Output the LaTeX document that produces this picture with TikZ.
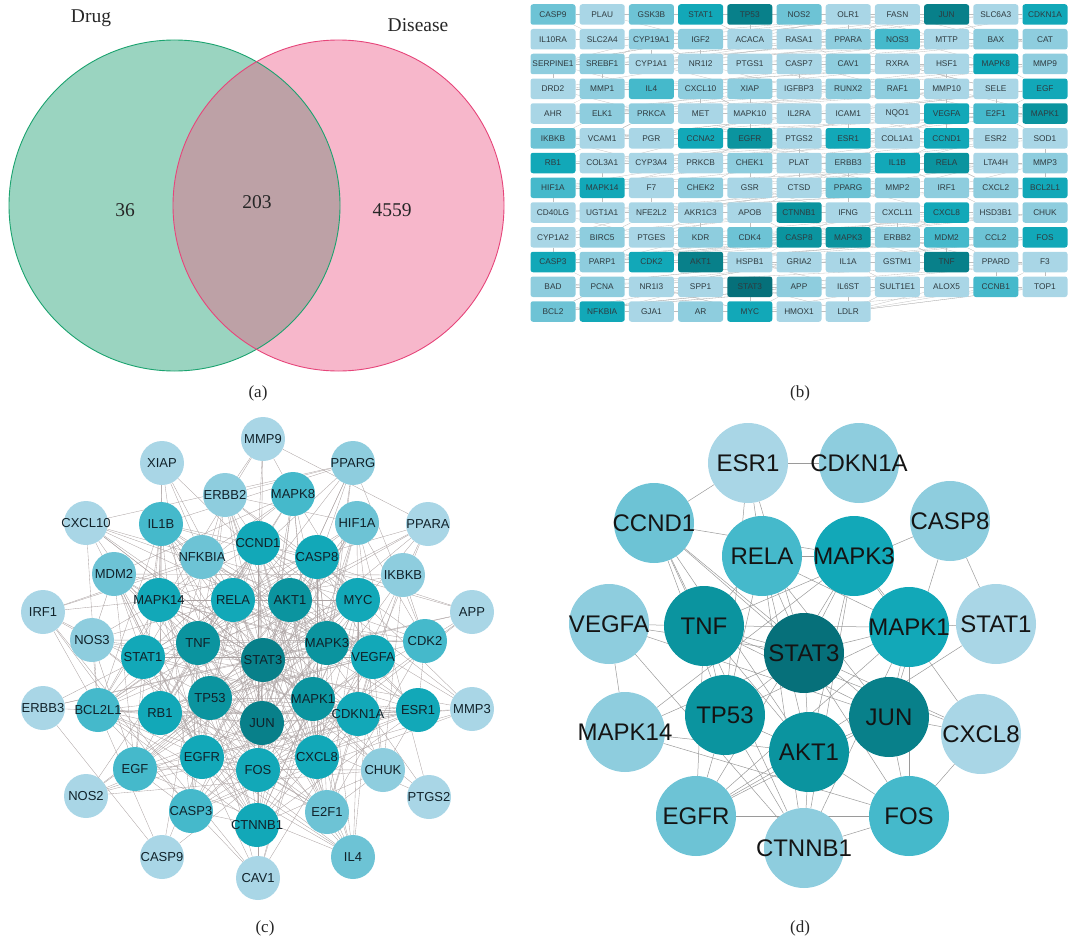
\documentclass[tikz,border=0pt]{standalone}
\usepackage{fontspec}
\setmainfont{Liberation Serif}
\newfontfamily\arialf{Liberation Sans}
\usetikzlibrary{backgrounds}
\definecolor{k1}{HTML}{A9D6E6}
\definecolor{k2}{HTML}{8ECDDE}
\definecolor{k3}{HTML}{6DC3D5}
\definecolor{k4}{HTML}{45B9CB}
\definecolor{k5}{HTML}{12A8B8}
\definecolor{k6}{HTML}{0B949F}
\definecolor{k7}{HTML}{08808A}
\definecolor{k8}{HTML}{06707A}
\definecolor{vgfill}{HTML}{9AD4C0}
\definecolor{vgline}{HTML}{1BA36F}
\definecolor{vpfill}{HTML}{F7B7CB}
\definecolor{vpline}{HTML}{E6457A}
\definecolor{vint}{HTML}{BDA1A6}
\definecolor{txtb}{HTML}{2E3B40}
\definecolor{txtc}{HTML}{10222A}
\definecolor{bedgec}{HTML}{BEBEBE}
\definecolor{cedgec}{HTML}{ADA4A4}
\definecolor{dedgec}{HTML}{9A9A9A}
\tikzset{
  vennlbl/.style={font=\fontsize{19.5}{20}\selectfont, text=black!85},
  caplbl/.style={font=\fontsize{17}{18}\selectfont, text=black!85},
  gbox/.style={rounded corners=2.5pt, minimum width=45pt, minimum height=20.5pt, inner sep=0pt,
    font=\arialf\fontsize{8.3}{9}\selectfont, text=txtb},
  cnode/.style={circle, minimum size=44pt, inner sep=0pt},
  ctext/.style={font=\arialf\fontsize{13}{14}\selectfont, text=txtc, inner sep=0pt},
  dnode/.style={circle, minimum size=80pt, inner sep=0pt},
  dtext/.style={font=\arialf\fontsize{24}{26}\selectfont, text=black!92, inner sep=0pt},
  bedge/.style={draw=bedgec, line width=0.3pt},
  cedge/.style={draw=cedgec, line width=0.35pt},
  dedge/.style={draw=dedgec, line width=0.5pt},
}
\def\cnodes{MMP9/263/439/1, XIAP/162/463/1, PPARG/353/463/2, ERBB2/225/495/2, MAPK8/293/494/4,
CXCL10/86/523/1, IL1B/161/524/4, HIF1A/357/523/3, PPARA/428/524/1, CCND1/258/543/5,
NFKBIA/202/557/3, CASP8/317/557/5, MDM2/114/574/3, IKBKB/403/575/2, MAPK14/159/600/5,
RELA/233/600/5, AKT1/290/600/6, MYC/358/600/5, IRF1/43/612/1, APP/472/612/1,
NOS3/92/640/2, TNF/198/643/6, MAPK3/327/643/6, CDK2/425/641/4, STAT1/143/657/5,
STAT3/263/660/7, VEGFA/373/657/5, ERBB3/43/708/1, BCL2L1/98/710/4, RB1/160/713/5,
TP53/210/698/6, MAPK1/313/699/6, CDKN1A/358/714/5, ESR1/418/710/5, MMP3/472/709/1,
JUN/262/723/7, EGFR/202/757/5, EGF/135/769/4, FOS/258/770/5, CXCL8/317/757/5,
CHUK/383/770/2, NOS2/86/796/1, CASP3/191/811/4, PTGS2/429/797/1, E2F1/327/812/3,
CTNNB1/257/825/5, CASP9/162/857/1, IL4/353/857/3, CAV1/258/878/1}
\def\dnodes{ESR1/748/463/1, CDKN1A/859/463/2, CCND1/654/523/3, CASP8/950/521/2,
RELA/762/556/4, MAPK3/854/556/5, VEGFA/609/624/2, TNF/704/626/6, STAT3/804/653/8,
MAPK1/909/627/5, STAT1/996/624/1, TP53/725/715/6, JUN/889/717/7, MAPK14/625/732/2,
CXCL8/981/734/1, AKT1/809/752/6, EGFR/696/816/3, CTNNB1/804/848/2, FOS/909/816/4}
\begin{document}
\begin{tikzpicture}[x=1pt,y=-1pt]
\useasboundingbox (0,0) rectangle (1068,942);
% ---------------- (a) Venn ----------------
\fill[vgfill] (174.5,205.5) circle[radius=165.5pt];
\fill[vpfill] (338.5,205.5) circle[radius=165.5pt];
\begin{scope}
  \clip (174.5,205.5) circle[radius=165.5pt];
  \fill[vint] (338.5,205.5) circle[radius=165.5pt];
\end{scope}
\draw[vgline, line width=0.9pt] (174.5,205.5) circle[radius=165.5pt];
\draw[vpline, line width=0.9pt] (338.5,205.5) circle[radius=165.5pt];
\node[vennlbl] (drug) at (91,18) {Drug};
\node[vennlbl] (disease) at (418,25) {Disease};
\node[vennlbl] (n36) at (125,210) {36};
\node[vennlbl] (n203) at (257,202) {203};
\node[vennlbl] (n4559) at (392,210) {4559};
\node[caplbl] (capa) at (258,393) {(a)};
% ---------------- (b) grid ----------------
\foreach \g/\l [count=\i from 0] in {CASP9/3,PLAU/1,GSK3B/3,STAT1/5,TP53/7,NOS2/3,OLR1/1,FASN/1,JUN/7,SLC6A3/1,CDKN1A/5,
IL10RA/1,SLC2A4/1,CYP19A1/2,IGF2/2,ACACA/1,RASA1/1,PPARA/2,NOS3/4,MTTP/1,BAX/2,CAT/2,
SERPINE1/2,SREBF1/2,CYP1A1/1,NR1I2/1,PTGS1/1,CASP7/1,CAV1/2,RXRA/1,HSF1/1,MAPK8/5,MMP9/2,
DRD2/1,MMP1/2,IL4/4,CXCL10/2,XIAP/2,IGFBP3/1,RUNX2/2,RAF1/2,MMP10/1,SELE/1,EGF/5,
AHR/1,ELK1/2,PRKCA/2,MET/1,MAPK10/1,IL2RA/1,ICAM1/1,NQO1/1,VEGFA/5,E2F1/4,MAPK1/6,
IKBKB/3,VCAM1/1,PGR/1,CCNA2/5,EGFR/6,PTGS2/1,ESR1/5,COL1A1/1,CCND1/5,ESR2/1,SOD1/1,
RB1/5,COL3A1/1,CYP3A4/1,PRKCB/1,CHEK1/2,PLAT/1,ERBB3/2,IL1B/5,RELA/6,LTA4H/1,MMP3/2,
HIF1A/4,MAPK14/5,F7/1,CHEK2/2,GSR/1,CTSD/1,PPARG/3,MMP2/2,IRF1/2,CXCL2/2,BCL2L1/5,
CD40LG/1,UGT1A1/1,NFE2L2/1,AKR1C3/1,APOB/1,CTNNB1/6,IFNG/1,CXCL11/1,CXCL8/5,HSD3B1/1,CHUK/2,
CYP1A2/1,BIRC5/2,PTGES/1,KDR/2,CDK4/3,CASP8/6,MAPK3/6,ERBB2/2,MDM2/4,CCL2/3,FOS/5,
CASP3/5,PARP1/2,CDK2/5,AKT1/7,HSPB1/1,GRIA2/1,IL1A/1,GSTM1/1,TNF/7,PPARD/1,F3/1,
BAD/2,PCNA/2,NR1I3/1,SPP1/1,STAT3/8,APP/2,IL6ST/1,SULT1E1/1,ALOX5/1,CCNB1/4,TOP1/1,
BCL2/3,NFKBIA/5,GJA1/1,AR/2,MYC/5,HMOX1/1,LDLR/1} {
  \pgfmathtruncatemacro\col{mod(\i,11)}
  \pgfmathtruncatemacro\row{div(\i,11)}
  \node[gbox, fill=k\l] (b\i) at ({553+\col*49.2},{14.5+\row*24.75}) {\g};
}
\begin{pgfonlayer}{background}
\pgfmathsetseed{11}
\foreach \i in {0,...,138} {
  \foreach \t in {1,2,3} {
    \pgfmathtruncatemacro\k{max(0,min(138,\i+random(0,26)-13))}
    \ifnum\k=\i\relax\else
      \draw[bedge] (b\i) -- (b\k);
    \fi
  }
}
\end{pgfonlayer}
\node[caplbl] (capb) at (800,393) {(b)};
% ---------------- (c) network ----------------
\foreach \n/\x/\y/\l in \cnodes {
  \node[cnode, fill=k\l] (c-\n) at (\x,\y) {};
}
\foreach \n/\x/\y/\l in \cnodes {
  \node[ctext] at (c-\n) {\n};
}
\begin{pgfonlayer}{background}
\pgfmathsetseed{5}
\foreach \a/\xa/\ya/\la [count=\i] in \cnodes {
  \foreach \b/\xb/\yb/\lb [count=\j] in \cnodes {
    \ifnum\j>\i\relax
      \pgfmathsetmacro\pp{(0.17+0.115*\la)*(0.17+0.115*\lb)}
      \pgfmathtruncatemacro\hit{rnd<\pp}
      \ifnum\hit=1\relax
        \draw[cedge] (c-\a) -- (c-\b);
      \fi
    \fi
  }
}
\end{pgfonlayer}
\node[caplbl] (capc) at (265,928) {(c)};
% ---------------- (d) network ----------------
\foreach \n/\x/\y/\l in \dnodes {
  \node[dnode, fill=k\l] (d-\n) at (\x,\y) {};
}
\foreach \n/\x/\y/\l in \dnodes {
  \node[dtext] at (d-\n) {\n};
}
\begin{pgfonlayer}{background}
\pgfmathsetseed{3}
\foreach \a/\xa/\ya/\la [count=\i] in \dnodes {
  \foreach \b/\xb/\yb/\lb [count=\j] in \dnodes {
    \ifnum\j>\i\relax
      \pgfmathsetmacro\pp{(0.45+0.07*\la)*(0.45+0.07*\lb)}
      \pgfmathtruncatemacro\hit{rnd<\pp}
      \ifnum\hit=1\relax
        \draw[dedge] (d-\a) -- (d-\b);
      \fi
    \fi
  }
}
\end{pgfonlayer}
\node[caplbl] (capd) at (800,928) {(d)};
\end{tikzpicture}
\end{document}
